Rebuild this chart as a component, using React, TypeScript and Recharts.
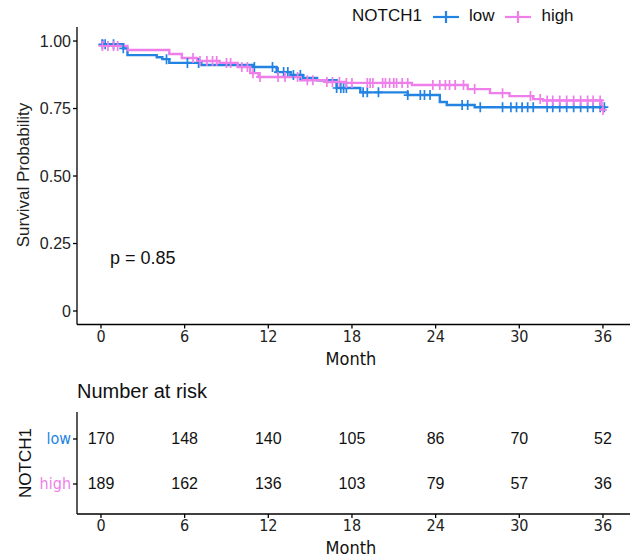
import { ComposedChart, Line, Scatter, XAxis, YAxis } from 'recharts';

// Kaplan-Meier step points (months, survival)
const lowTimes = [0, 0.1, 1.6, 1.9, 4.0, 4.4, 4.9, 7.1, 10.9, 12.6, 13.6, 14.5, 15.5, 16.9, 18.6, 22.0, 24.3, 24.8, 26.8, 36.2];
const lowSurv = [1, 0.988, 0.973, 0.948, 0.94, 0.933, 0.919, 0.911, 0.904, 0.885, 0.874, 0.863, 0.855, 0.826, 0.81, 0.8, 0.774, 0.763, 0.755, 0.755];
const highTimes = [0, 0.1, 1.9, 4.9, 5.8, 6.9, 8.5, 9.8, 10.7, 11.3, 14.3, 16.2, 17.5, 22.3, 26.3, 27.9, 29.3, 31.0, 31.7, 35.9, 36.0];
const highSurv = [1, 0.982, 0.967, 0.952, 0.937, 0.926, 0.919, 0.904, 0.881, 0.867, 0.855, 0.848, 0.845, 0.837, 0.822, 0.807, 0.796, 0.785, 0.78, 0.745, 0.745];

// censoring times
const lowCensor = [0.1, 0.3, 0.9, 1.6, 4.7, 6.2, 7.0, 11.0, 12.3, 12.7, 13.1, 13.4, 13.8, 14.3, 16.9, 17.2, 17.4, 17.6, 18.8, 19.1, 19.9, 22.0, 22.9, 23.2, 23.6, 25.9, 26.3, 27.2, 28.8, 29.4, 29.8, 30.2, 30.6, 31.0, 32.0, 32.4, 32.9, 33.4, 33.9, 34.4, 34.9, 35.3, 35.8, 36.1];
const highCensor = [0.1, 0.5, 0.9, 1.2, 6.6, 7.1, 7.6, 8.0, 8.3, 9.0, 9.3, 10.1, 10.5, 10.9, 11.4, 12.7, 13.2, 14.1, 14.8, 15.2, 16.2, 16.6, 17.1, 17.6, 18.0, 19.1, 19.3, 19.5, 20.2, 20.4, 20.7, 21.0, 21.2, 21.6, 22.0, 23.8, 24.3, 24.7, 25.0, 25.4, 26.0, 26.8, 28.8, 30.8, 31.5, 32.0, 32.4, 32.9, 33.4, 33.9, 34.4, 34.9, 35.3, 35.8, 36.0];

const riskTimes = [0, 6, 12, 18, 24, 30, 36];
const lowRisk = [170, 148, 140, 105, 86, 70, 52];
const highRisk = [189, 162, 136, 103, 79, 57, 36];

const monthTicks = [0, 6, 12, 18, 24, 30, 36];
const survTicks = [0, 0.25, 0.5, 0.75, 1];

const BLUE = '#2383E2';
const PINK = '#EE7FEA';
const SANS = "'Liberation Sans', Arial, sans-serif";
const NARROW = "'Liberation Sans Narrow', 'DejaVu Sans Condensed', sans-serif";
const X_DOMAIN = [-1.72, 37.94];

const curve = (times: number[], surv: number[]) => times.map((t, i) => ({ t, s: surv[i] }));

const survAt = (times: number[], surv: number[], t: number) => {
  let s = surv[0];
  times.forEach((tt, i) => {
    if (tt <= t) s = surv[i];
  });
  return s;
};

const marks = (censor: number[], times: number[], surv: number[]) =>
  censor.map((t) => ({ t, s: survAt(times, surv, t) }));

const crossShape = (color: string) => (p: any) => (
  <g stroke={color} strokeWidth={1.7}>
    <line x1={p.cx - 4} x2={p.cx + 4} y1={p.cy} y2={p.cy} />
    <line x1={p.cx} x2={p.cx} y1={p.cy - 5} y2={p.cy + 5} />
  </g>
);

const riskShape = (p: any) => (
  <text x={p.cx} y={p.cy} textAnchor="middle" dominantBaseline="central" fontSize={16} fontFamily={SANS} fill="#111">
    {p.payload.n}
  </text>
);

const GroupTick = (p: any) => {
  const v = p.payload.value;
  return (
    <text x={p.x} y={p.y} textAnchor="end" dominantBaseline="central" fontSize={16} fontFamily={NARROW} fill={v === 2 ? BLUE : PINK}>
      {v === 2 ? 'low' : 'high'}
    </text>
  );
};

const lowRows = riskTimes.map((t, i) => ({ t, s: 2, n: lowRisk[i] }));
const highRows = riskTimes.map((t, i) => ({ t, s: 1, n: highRisk[i] }));

const axisLine = { stroke: '#000', strokeWidth: 1.3 };
const xTick = { fill: '#222', fontSize: 16, fontFamily: NARROW };

const LegendKey = ({ color }: { color: string }) => (
  <svg width={28} height={14} style={{ verticalAlign: 'middle' }}>
    <g stroke={color} strokeWidth={2.2}>
      <line x1={1} x2={27} y1={7} y2={7} />
      <line x1={14} x2={14} y1={1} y2={13} />
    </g>
  </svg>
);

export default function App() {
  return (
    <div style={{ position: 'relative', width: 631, height: 558, fontFamily: SANS, background: '#fff' }}>
      <style>{'body{margin:0}'}</style>

      <div style={{ position: 'absolute', left: 352, top: 5, fontSize: 17, color: '#111', whiteSpace: 'nowrap', lineHeight: '22px' }}>
        NOTCH1
        <span style={{ marginLeft: 10 }}><LegendKey color={BLUE} /></span>
        <span style={{ marginLeft: 9 }}>low</span>
        <span style={{ marginLeft: 10 }}><LegendKey color={PINK} /></span>
        <span style={{ marginLeft: 9 }}>high</span>
      </div>

      <div style={{ position: 'absolute', left: 0, top: 0 }}>
        <ComposedChart width={631} height={370} margin={{ top: 27, right: 1, bottom: 0, left: 0 }}>
          <XAxis dataKey="t" type="number" domain={X_DOMAIN} ticks={monthTicks} allowDataOverflow height={45.5}
            axisLine={axisLine} tickLine={axisLine} tickSize={4} tick={xTick} />
          <YAxis type="number" domain={[-0.05, 1.052]} ticks={survTicks} allowDataOverflow width={77}
            axisLine={axisLine} tickLine={axisLine} tickSize={4}
            tick={{ fill: '#222', fontSize: 16, fontFamily: SANS }}
            tickFormatter={(v: number) => (v === 0 ? '0' : v.toFixed(2))} />
          <Line data={curve(lowTimes, lowSurv)} dataKey="s" type="stepAfter" stroke={BLUE} strokeWidth={2.4} dot={false} isAnimationActive={false} />
          <Line data={curve(highTimes, highSurv)} dataKey="s" type="stepAfter" stroke={PINK} strokeWidth={2.4} dot={false} isAnimationActive={false} />
          <Scatter data={marks(lowCensor, lowTimes, lowSurv)} dataKey="s" shape={crossShape(BLUE)} isAnimationActive={false} />
          <Scatter data={marks(highCensor, highTimes, highSurv)} dataKey="s" shape={crossShape(PINK)} isAnimationActive={false} />
        </ComposedChart>
      </div>

      <div style={{ position: 'absolute', left: 24, top: 175, transform: 'translate(-50%,-50%) rotate(-90deg)', fontSize: 17, color: '#222', whiteSpace: 'nowrap' }}>
        Survival Probability
      </div>
      <div style={{ position: 'absolute', left: 110, top: 248, fontSize: 18, color: '#111' }}>p = 0.85</div>
      <div style={{ position: 'absolute', left: 351, top: 359, transform: 'translate(-50%,-50%)', fontSize: 18, fontFamily: NARROW, color: '#111', lineHeight: '20px' }}>Month</div>

      <div style={{ position: 'absolute', left: 77, top: 380, fontSize: 20, color: '#111' }}>Number at risk</div>

      <div style={{ position: 'absolute', left: 0, top: 370 }}>
        <ComposedChart width={631} height={188} margin={{ top: 42, right: 1, bottom: 0, left: 0 }}>
          <XAxis dataKey="t" type="number" domain={X_DOMAIN} ticks={monthTicks} allowDataOverflow height={44}
            axisLine={axisLine} tickLine={axisLine} tickSize={4} tick={xTick} />
          <YAxis type="number" domain={[0.333, 2.6]} ticks={[1, 2]} allowDataOverflow width={77}
            axisLine={axisLine} tickLine={axisLine} tickSize={4} tick={<GroupTick />} />
          <Scatter data={lowRows} dataKey="s" shape={riskShape} isAnimationActive={false} />
          <Scatter data={highRows} dataKey="s" shape={riskShape} isAnimationActive={false} />
        </ComposedChart>
      </div>

      <div style={{ position: 'absolute', left: 26, top: 463, transform: 'translate(-50%,-50%) rotate(-90deg)', fontSize: 17, color: '#111', whiteSpace: 'nowrap' }}>
        NOTCH1
      </div>
      <div style={{ position: 'absolute', left: 351, top: 548, transform: 'translate(-50%,-50%)', fontSize: 18, fontFamily: NARROW, color: '#111', lineHeight: '20px' }}>Month</div>
    </div>
  );
}
